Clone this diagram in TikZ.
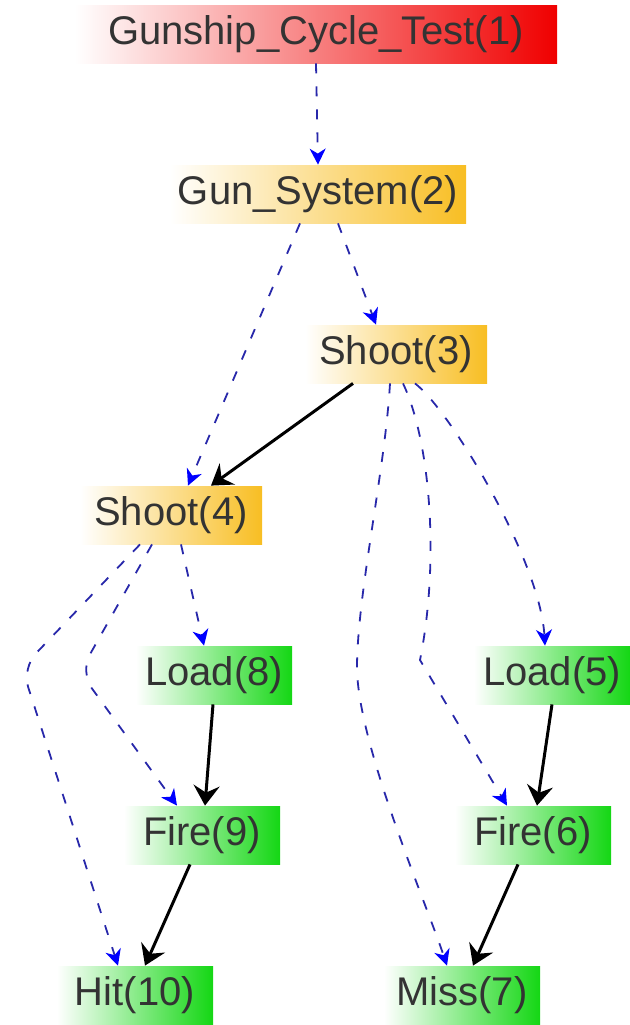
\documentclass[tikz,border=0pt]{standalone}
\usepackage{fontspec}
\setmainfont{Liberation Sans}
\usetikzlibrary{arrows.meta,calc}
\definecolor{gunred}{RGB}{240,0,0}
\definecolor{gungold}{RGB}{248,190,35}
\definecolor{gungreen}{RGB}{20,215,20}
\definecolor{depblue}{RGB}{40,40,170}

\begin{document}
\begin{tikzpicture}[x=0.5pt,y=-0.5pt,
  box/.style={rectangle,inner xsep=4pt,inner ysep=0pt,minimum height=29pt,
    text=black!80,font=\fontsize{20}{24}\selectfont},
  redbox/.style={box,left color=white,middle color=gunred!65,right color=gunred,minimum width=241pt},
  goldbox/.style={box,left color=white,middle color=gungold!75,right color=gungold,minimum width=91pt},
  greenbox/.style={box,left color=white,middle color=gungreen!75,right color=gungreen,minimum width=78pt},
  dep/.style={depblue,line width=0.9pt,dash pattern=on 5pt off 6.5pt,
    -{Stealth[blue,length=8pt,width=8pt,inset=2.5pt]}},
  seq/.style={black,line width=1.5pt,-{Stealth[length=10pt,width=13pt,inset=3.5pt]}}]
\useasboundingbox (0,0) rectangle (630,1025);
\node[redbox] (test1) at (316,34) {Gunship\_Cycle\_Test(1)};
\node[goldbox] (gun2) at (318,194) {Gun\_System(2)};
\node[goldbox] (shoot3) at (396,354) {Shoot(3)};
\node[goldbox] (shoot4) at (171,515) {Shoot(4)};
\foreach \nm/\x/\y/\txt in {load8/214/675/Load(8), load5/552/675/Load(5),
  fire9/202/835/Fire(9), fire6/533/835/Fire(6), hit10/135/995/Hit(10), miss7/462/995/Miss(7)}{
\node[greenbox] (\nm) at (\x,\y) {\txt};
}
%
\draw[dep] (test1.south) -- (gun2.north);
\draw[dep] ($(gun2.south)+(20,0)$) -- ($(shoot3.north)+(-20,0)$);
\draw[dep] ($(gun2.south)+(-18,0)$) -- ($(shoot4.north)+(17,0)$);
\draw[seq] ($(shoot3.south)+(-43,0)$) -- ($(shoot4.north)+(40,0)$);
\draw[dep] ($(shoot4.south)+(10,0)$) -- ($(load8.north)+(-10,0)$);
\draw[dep,rounded corners=10pt] ($(shoot4.south)+(-19,0)$) -- (80,672) -- ($(fire9.north)+(-25,0)$);
\draw[dep,rounded corners=10pt] ($(shoot4.south)+(-31,0)$) -- (22,668) -- ($(hit10.north)+(-17,0)$);
\draw[seq] ($(load8.south)+(-1,0)$) -- ($(fire9.north)+(3,0)$);
\draw[seq] ($(fire9.south)+(-12,0)$) -- ($(hit10.north)+(10,0)$);
\draw[dep] ($(shoot3.south)+(-6,0)$) .. controls (385,470) and (358,590) .. (357,665)
  .. controls (356,740) and (425,900) .. ($(miss7.north)+(-15,0)$);
\draw[dep] ($(shoot3.south)+(7,0)$) .. controls (430,440) and (440,560) .. (420,660)
  -- ($(fire6.north)+(-26,0)$);
\draw[dep] ($(shoot3.south)+(19,0)$) .. controls (450,410) and (540,560) .. ($(load5.north)+(-7,0)$);
\draw[seq] (load5.south) -- ($(fire6.north)+(4,0)$);
\draw[seq] ($(fire6.south)+(-15,0)$) -- ($(miss7.north)+(11,0)$);
\end{tikzpicture}
\end{document}
